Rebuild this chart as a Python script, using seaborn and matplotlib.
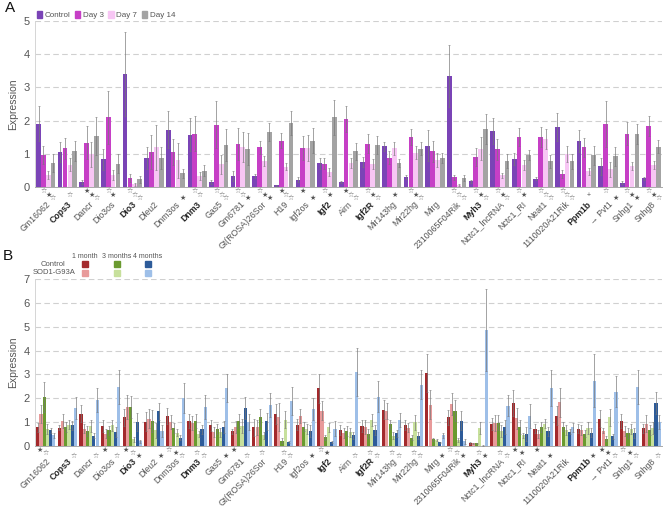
import numpy as np
import pandas as pd
import seaborn as sns
import matplotlib.pyplot as plt
from matplotlib.patches import Rectangle

# genes (x categories)
genes = ["Gm16062", "Cops3", "Dancr", "Dio3os", "Dio3", "Dleu2", "Dnm3os", "Dnm3",
         "Gas5", "Gm6781", "Gt(ROSA)26Sor", "H19", "Igf2os", "Igf2", "Airn", "Igf2R",
         "Mir143hg", "Mir22hg", "Mirg", "2310065F04Rik", "Myh3", "Nctc1_lncRNA",
         "Nctc1_RI", "Neat1", "1110020A21Rik", "Ppm1b", "Pvt1", "Snhg1", "Snhg8"]
bold_genes = ["Cops3", "Dio3", "Dnm3", "Igf2", "Igf2R", "Myh3", "Ppm1b"]
tick_labels = ["→ " + g if g == "Pvt1" else g for g in genes]

# ---- panel A ----
groups_a = ["Control", "Day 3", "Day 7", "Day 14"]
ctrl_a = [1.91, 1.06, 0.15, 0.83, 3.41, 0.87, 1.72, 1.57, 0.16, 0.34, 0.33, 0.05, 0.22, 0.71,
          0.15, 0.74, 1.23, 0.29, 1.24, 3.34, 0.17, 1.69, 0.84, 0.25, 1.81, 1.39, 0.62, 0.13, 0.26]
day3_a = [0.97, 1.16, 1.34, 2.10, 0.27, 1.06, 1.05, 1.61, 1.87, 1.29, 1.20, 1.40, 1.18, 0.70,
          2.05, 1.31, 0.88, 1.51, 1.07, 0.29, 0.91, 1.14, 1.51, 1.51, 0.40, 1.19, 1.89, 1.61, 1.85]
day7_a = [0.37, 0.67, 0.98, 0.35, 0.08, 1.19, 0.80, 0.32, 0.68, 1.20, 0.79, 0.61, 1.17, 0.46,
          0.71, 0.68, 1.16, 1.03, 0.81, 0.07, 1.15, 0.35, 0.65, 1.45, 1.00, 0.47, 0.53, 0.63, 0.65]
day14_a = [0.72, 1.09, 1.54, 0.70, 0.23, 0.87, 0.41, 0.49, 1.27, 1.15, 1.66, 1.93, 1.40, 2.10,
           1.07, 1.26, 0.71, 1.15, 0.88, 0.27, 1.74, 0.78, 0.96, 0.77, 0.77, 0.95, 0.92, 1.61, 1.21]
err_ctrl_a = [0.52, 0.30, 0.07, 0.32, 1.27, 0.33, 0.56, 0.50, 0.06, 0.15, 0.07, 0.02, 0.08, 0.17,
              0.03, 0.15, 0.14, 0.06, 0.47, 0.93, 0.05, 0.38, 0.17, 0.05, 0.42, 0.33, 0.25, 0.05, 0.05]
err_day3_a = [0.27, 0.32, 0.50, 0.80, 0.12, 0.52, 0.40, 0.53, 0.71, 0.49, 0.20, 0.24, 0.36, 0.17,
              0.40, 0.30, 0.20, 0.25, 0.33, 0.08, 0.27, 0.32, 0.27, 0.30, 0.12, 0.29, 0.70, 0.35, 0.30]
err_day7_a = [0.12, 0.20, 0.38, 0.15, 0.05, 0.69, 0.54, 0.12, 0.28, 0.46, 0.15, 0.10, 0.40, 0.12,
              0.15, 0.15, 0.20, 0.20, 0.20, 0.03, 0.35, 0.08, 0.15, 0.30, 0.25, 0.10, 0.23, 0.12, 0.12]
err_day14_a = [0.27, 0.30, 0.57, 0.28, 0.10, 0.34, 0.14, 0.17, 0.48, 0.48, 0.28, 0.36, 0.38, 0.53,
               0.25, 0.27, 0.12, 0.20, 0.15, 0.08, 0.45, 0.20, 0.15, 0.20, 0.22, 0.28, 0.28, 0.30, 0.20]
# significance symbols under Day 3 / Day 7 / Day 14 (o = open star, f = filled star)
stars_a = ["ofo", " o ", "ffo", "of ", "ooo", "   ", "  f", "oo ", "ooo", "oof", "off", "foo",
           "f f", "of ", "foo", "ofo", " f ", "ofo", "   ", "ooo", "ofo", "ofo", "of ", "ooo",
           "ooo", " + ", "o f", "off", "ofo"]

# ---- panel B ----
groups_b = ["Control 1m", "SOD1 1m", "Control 3m", "SOD1 3m", "Control 4m", "SOD1 4m"]
ctrl_1m = [0.78, 0.76, 1.36, 0.84, 1.20, 1.02, 1.26, 1.04, 0.86, 0.61, 0.79, 1.34, 0.90, 2.42,
           0.66, 0.84, 1.52, 0.87, 3.06, 1.20, 0.12, 0.94, 1.80, 0.73, 1.27, 0.73, 1.15, 1.05, 0.74]
sod_1m = [1.35, 1.04, 0.73, 0.52, 1.64, 1.14, 1.02, 0.97, 0.58, 0.81, 0.78, 1.21, 1.26, 1.47,
          0.55, 0.80, 1.47, 0.77, 1.73, 1.77, 0.11, 0.96, 1.16, 0.50, 1.83, 0.67, 0.64, 0.64, 0.94]
ctrl_3m = [2.06, 0.80, 0.62, 0.65, 1.63, 1.04, 0.76, 1.05, 0.71, 1.05, 1.20, 0.22, 0.81, 0.36,
           0.64, 0.52, 0.91, 0.35, 0.28, 1.48, 0.11, 0.98, 0.81, 0.80, 0.81, 0.52, 0.31, 0.54, 0.67]
sod_3m = [0.72, 0.90, 0.85, 0.86, 0.28, 0.65, 0.56, 0.50, 0.57, 0.83, 0.45, 1.11, 0.72, 0.78,
          0.57, 1.09, 0.43, 0.99, 0.25, 0.25, 0.75, 0.61, 0.45, 0.94, 0.66, 0.74, 1.20, 0.71, 0.77]
ctrl_4m = [0.65, 0.86, 0.43, 0.58, 1.00, 1.46, 0.35, 0.70, 0.78, 1.60, 1.03, 0.18, 0.62, 0.18,
           0.45, 0.67, 0.53, 0.43, 0.15, 1.05, 0.02, 0.81, 0.50, 0.61, 0.60, 0.56, 0.41, 0.54, 1.80]
sod_4m = [0.45, 1.60, 1.93, 2.48, 0.19, 0.64, 2.01, 1.64, 2.43, 1.01, 1.71, 1.88, 1.56, 0.73,
          3.10, 2.07, 1.10, 2.57, 0.45, 0.20, 4.87, 1.69, 1.27, 2.43, 0.78, 2.74, 2.28, 2.47, 1.01]
err_ctrl_1m = [0.20, 0.10, 0.35, 0.25, 0.35, 0.40, 0.35, 0.30, 0.22, 0.10, 0.35, 0.40, 0.25, 0.60,
               0.20, 0.25, 0.40, 0.20, 0.80, 0.30, 0.05, 0.25, 0.55, 0.20, 0.40, 0.20, 0.35, 0.30, 0.20]
err_sod_1m = [0.38, 0.30, 0.20, 0.20, 0.50, 0.40, 0.30, 0.28, 0.20, 0.25, 0.30, 0.60, 0.30, 0.40,
              0.20, 0.30, 0.35, 0.20, 0.60, 0.45, 0.03, 0.35, 0.45, 0.15, 0.60, 0.20, 0.10, 0.20, 0.35]
err_ctrl_3m = [0.62, 0.20, 0.20, 0.20, 0.45, 0.45, 0.20, 0.30, 0.20, 0.30, 0.35, 0.10, 0.20, 0.10,
               0.20, 0.20, 0.20, 0.10, 0.05, 0.45, 0.03, 0.30, 0.30, 0.20, 0.20, 0.15, 0.10, 0.20, 0.20]
err_sod_3m = [0.20, 0.20, 0.25, 0.25, 0.10, 0.30, 0.15, 0.12, 0.20, 0.30, 0.15, 0.35, 0.20, 0.20,
              0.20, 0.25, 0.15, 0.30, 0.05, 0.10, 0.25, 0.25, 0.10, 0.20, 0.20, 0.25, 0.35, 0.20, 0.25]
err_ctrl_4m = [0.10, 0.20, 0.10, 0.20, 0.38, 0.35, 0.10, 0.20, 0.25, 0.45, 0.35, 0.05, 0.25, 0.05,
               0.15, 0.20, 0.15, 0.15, 0.03, 0.40, 0.01, 0.30, 0.30, 0.20, 0.10, 0.20, 0.10, 0.20, 0.45]
err_sod_4m = [0.10, 0.45, 0.50, 0.72, 0.06, 0.25, 0.62, 0.50, 0.60, 0.35, 0.50, 0.60, 0.45, 0.30,
              1.00, 0.65, 0.30, 0.60, 0.10, 0.10, 1.73, 0.45, 0.50, 0.75, 0.20, 1.10, 0.65, 0.70, 0.30]
# significance symbols for 1 / 3 / 4 months
stars_b = ["fo ", "  o", "  o", "f o", "fof", "  f", "ofo", " oo", "  f", "f o", " o ", " oo",
           "  f", "of ", "  o", " oo", " oo", " oo", "  f", "oof", " of", " oo", "ff ", "f f",
           "   ", "  f", "ffo", "ofo", "  o"]

pal_a = ["#7a44b6", "#c63fc6", "#f7c6f4", "#a3a3a3"]
pal_b = ["#a3292c", "#e89a9a", "#6a9a2f", "#c7e09c", "#2d5b99", "#9ebfe8"]
sym = {"o": "☆", "f": "★", "+": "+"}

sns.set_style("white")
plt.rcParams["font.family"] = ["Liberation Sans", "DejaVu Sans"]
grey = "#555555"

fig = plt.figure(figsize=(6.65, 5.08), dpi=100)
axA = fig.add_axes([35 / 665, 1 - 187 / 508, 627 / 665, 166 / 508])
axB = fig.add_axes([35 / 665, 1 - 446 / 508, 627 / 665, 167 / 508])


def draw_panel(ax, vals, errs, groups, pal, ymax, pad):
    rows = []
    for g, v in zip(groups, vals):
        for gene, x in zip(genes, v):
            rows.append({"gene": gene, "group": g, "value": x})
    df = pd.DataFrame(rows)
    sns.barplot(data=df, x="gene", y="value", hue="group", order=genes, hue_order=groups,
                palette=pal, width=0.9, gap=0.04, errorbar=None, ax=ax, legend=False,
                saturation=1, linewidth=0)
    for cont, e in zip(ax.containers, errs):
        xs = [b.get_x() + b.get_width() / 2 for b in cont]
        hs = [b.get_height() for b in cont]
        ax.errorbar(xs, hs, yerr=e, fmt="none", ecolor="#777777", elinewidth=0.6,
                    capsize=0.8, capthick=0.5, alpha=0.8, zorder=3)
    ax.set_xlim(-0.5, len(genes) - 0.5)
    ax.set_ylim(0, ymax)
    ax.set_yticks(range(ymax + 1))
    ax.yaxis.grid(True, ls=(0, (5, 3)), color="#d0d0d0", lw=0.8)
    ax.set_axisbelow(True)
    ax.set_xlabel("")
    ax.set_ylabel("Expression", fontsize=7.5, color=grey)
    ax.tick_params(axis="y", labelsize=8, colors=grey, length=0, pad=4)
    ax.set_xticks(range(len(genes)))
    ax.set_xticklabels(tick_labels, rotation=45, ha="right", rotation_mode="anchor",
                       fontsize=6.3, color=grey)
    ax.tick_params(axis="x", length=0, pad=pad)
    for lab in ax.get_xticklabels():
        if lab.get_text() in bold_genes:
            lab.set_fontweight("bold")
            lab.set_color("#222222")
    ax.set_xticks(np.arange(-0.5, len(genes), 1), minor=True)
    ax.tick_params(axis="x", which="minor", length=3, color="#cccccc", width=0.6)
    for s in ["top", "right"]:
        ax.spines[s].set_visible(False)
    ax.spines["left"].set_color("#d5d5d5")
    ax.spines["bottom"].set_color("#aaaaaa")
    ax.spines["left"].set_linewidth(0.7)
    ax.spines["bottom"].set_linewidth(0.7)


draw_panel(axA, [ctrl_a, day3_a, day7_a, day14_a],
           [err_ctrl_a, err_day3_a, err_day7_a, err_day14_a], groups_a, pal_a, 5, 9)
draw_panel(axB, [ctrl_1m, sod_1m, ctrl_3m, sod_3m, ctrl_4m, sod_4m],
           [err_ctrl_1m, err_sod_1m, err_ctrl_3m, err_sod_3m, err_ctrl_4m, err_sod_4m],
           groups_b, pal_b, 7, 7.5)

# significance symbols, panel A
for i, code in enumerate(stars_a):
    for j, c in enumerate(code):
        if c == " ":
            continue
        b = axA.containers[j + 1][i]
        x = b.get_x() + b.get_width() / 2
        axA.annotate(sym[c], xy=(x, 0), xytext=(0, -3.5 - 2.4 * j), textcoords="offset points",
                     ha="center", va="center", fontsize=5, color=grey,
                     annotation_clip=False)

# significance symbols, panel B
for i, code in enumerate(stars_b):
    for m, c in enumerate(code):
        if c == " ":
            continue
        b1 = axB.containers[2 * m][i]
        b2 = axB.containers[2 * m + 1][i]
        x = (b1.get_x() + b2.get_x() + b2.get_width()) / 2
        axB.annotate(sym[c], xy=(x, 0), xytext=(0, -3.5 - 2.0 * m), textcoords="offset points",
                     ha="center", va="center", fontsize=5, color=grey,
                     annotation_clip=False)

# legend panel A
handles = [Rectangle((0, 0), 1, 1, color=c) for c in pal_a]
axA.legend(handles, groups_a, loc="lower left", bbox_to_anchor=(0.0, 1.0), ncol=4,
           frameon=False, fontsize=5.8, handlelength=0.65, handleheight=0.9,
           handletextpad=0.35, columnspacing=0.55, borderaxespad=0.1, borderpad=0.1,
           labelcolor=grey)

# legend panel B (grid of months x condition)
W, H = 665, 508
for k, (lab, cx) in enumerate(zip(["1 month", "3 months", "4 months"], [85, 117, 148])):
    fig.text(cx / W, 1 - 256 / H, lab, fontsize=5, color=grey, ha="center", va="center")
    for r, cy in enumerate([264, 273]):
        fig.patches.append(Rectangle(((cx - 3) / W, 1 - (cy + 3) / H), 6 / W, 6 / H,
                                     transform=fig.transFigure, color=pal_b[2 * k + r]))
fig.text(53 / W, 1 - 264 / H, "Control", fontsize=5.5, color=grey, ha="center", va="center")
fig.text(54 / W, 1 - 273 / H, "SOD1-G93A", fontsize=5.5, color=grey, ha="center", va="center")

fig.text(5 / W, 1 - 8 / H, "A", fontsize=11, ha="left", va="center", color="#111111")
fig.text(3 / W, 1 - 256 / H, "B", fontsize=11, ha="left", va="center", color="#111111")

fig.savefig("out.png", dpi=100)
